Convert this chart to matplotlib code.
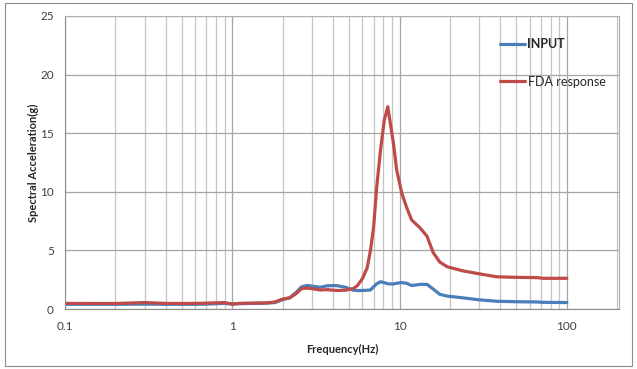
import numpy as np
import matplotlib
matplotlib.use("Agg")
import matplotlib.pyplot as plt
from matplotlib.patches import Rectangle
from matplotlib.ticker import LogLocator, FixedLocator, FixedFormatter, NullFormatter

plt.rcParams['font.family'] = ['Lato', 'DejaVu Sans']

# frequency (Hz)
freq = [0.1, 0.15, 0.2, 0.3, 0.4, 0.5, 0.6, 0.7, 0.8, 0.9, 1.0, 1.1, 1.3, 1.6, 1.8,
        2.0, 2.2, 2.4, 2.6, 2.8, 3.0, 3.35, 3.7, 4.2, 4.75, 5.3, 5.6, 6.0, 6.4, 6.7,
        7.0, 7.3, 7.7, 8.1, 8.5, 9.2, 9.6, 10.3, 11.0, 11.8, 13.3, 14.6, 15.9, 17.4,
        19.3, 24, 30, 38, 50, 66, 72, 100]

inp = [0.4, 0.4, 0.4, 0.42, 0.4, 0.4, 0.4, 0.42, 0.45, 0.48, 0.42, 0.45, 0.48, 0.5, 0.55,
       0.8, 0.95, 1.4, 1.9, 2.0, 1.95, 1.85, 1.98, 2.0, 1.85, 1.6, 1.58, 1.58, 1.6, 1.62,
       1.9, 2.15, 2.33, 2.25, 2.15, 2.13, 2.2, 2.25, 2.2, 2.0, 2.1, 2.1, 1.7, 1.25,
       1.1, 0.95, 0.78, 0.66, 0.62, 0.6, 0.57, 0.55]

fda = [0.48, 0.47, 0.47, 0.55, 0.48, 0.47, 0.48, 0.5, 0.53, 0.55, 0.42, 0.48, 0.5, 0.52, 0.6,
       0.85, 0.95, 1.3, 1.75, 1.78, 1.74, 1.62, 1.65, 1.58, 1.6, 1.75, 2.0, 2.6, 3.5, 5.0,
       7.0, 10.4, 13.6, 16.1, 17.26, 14.1, 11.9, 9.9, 8.7, 7.6, 6.9, 6.2, 4.8, 4.0,
       3.6, 3.25, 3.0, 2.75, 2.7, 2.68, 2.62, 2.62]

xticks = [0.1, 1, 10, 100]
xticklabels = ['0.1', '1', '10', '100']
yticks = [0, 5, 10, 15, 20, 25]

fig = plt.figure(figsize=(6.37, 3.69), dpi=100)
ax = fig.add_axes([65/637, 1-309/369, (619-65)/637, (309-16)/369])

ax.plot(freq, inp, color='#4a7ebb', lw=2.3, label='INPUT', solid_capstyle='round')
ax.plot(freq, fda, color='#be4b48', lw=2.3, label='FDA response', solid_capstyle='round')

ax.set_xscale('log')
ax.set_xlim(0.1, 205)
ax.set_ylim(0, 25)
ax.xaxis.set_major_locator(FixedLocator(xticks))
ax.xaxis.set_major_formatter(FixedFormatter(xticklabels))
ax.xaxis.set_minor_locator(LogLocator(base=10, subs=np.arange(2, 10), numticks=20))
ax.xaxis.set_minor_formatter(NullFormatter())
ax.set_yticks(yticks)

ax.grid(which='major', color='#a6a6a6', lw=0.9)
ax.grid(which='minor', axis='x', color='#c4c4c4', lw=0.9)
ax.set_axisbelow(True)

for s in ['top', 'right']:
    ax.spines[s].set_color('#b0b0b0')
for s in ['left', 'bottom']:
    ax.spines[s].set_color('#8c8c8c')
ax.tick_params(which='both', length=0, labelsize=8.5, colors='#404040', pad=9)
ax.tick_params(axis='y', pad=8)

ax.set_xlabel('Frequency(Hz)', fontsize=8, fontweight='bold', color='#262626', labelpad=8)
ax.set_ylabel('Spectral Acceleration(g)', fontsize=8, fontweight='bold', color='#262626', labelpad=1)

leg = ax.legend(loc='upper left', bbox_to_anchor=(500/637, 1-38/369), bbox_transform=fig.transFigure,
                frameon=False, fontsize=9, handlelength=2.0, handletextpad=0.2,
                labelspacing=2.05, borderpad=0, borderaxespad=0)
leg.get_texts()[0].set_fontweight('bold')
for t in leg.get_texts():
    t.set_color('#262626')

fig.patches.append(Rectangle((5/637, 1-366/369), 627/637, 363/369, transform=fig.transFigure,
                             fill=False, edgecolor='#8c8c8c', lw=0.8))

fig.savefig('out.png', dpi=100)
